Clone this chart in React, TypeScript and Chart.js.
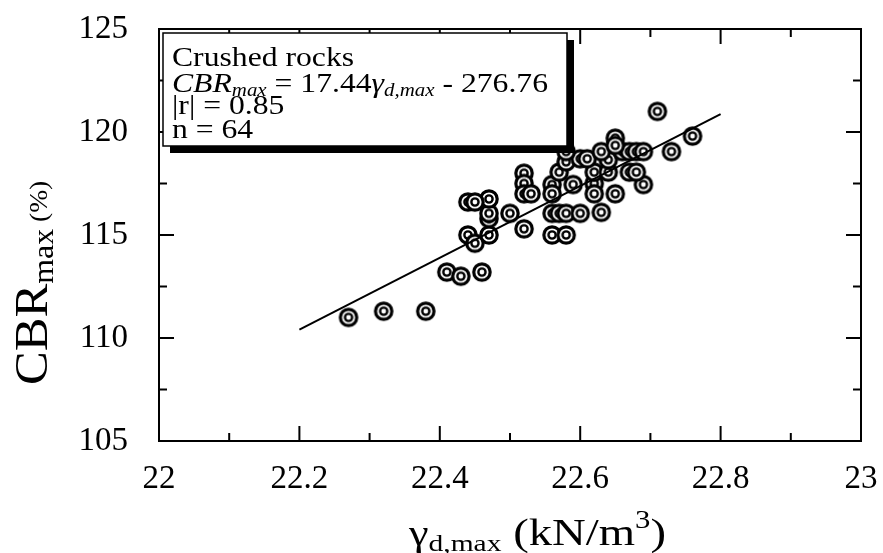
import React, { useEffect, useRef } from "react";
import { Chart, registerables } from "chart.js";

Chart.register(...registerables);

// ---- data ----
const gammaD = [
  22.27, 22.32, 22.38, 22.41, 22.43, 22.46, 22.44, 22.45, 22.47, 22.47,
  22.47, 22.47, 22.44, 22.45, 22.50, 22.52, 22.56, 22.58, 22.56, 22.57,
  22.58, 22.60, 22.63, 22.52, 22.52, 22.52, 22.53, 22.56, 22.56, 22.59,
  22.62, 22.62, 22.65, 22.69, 22.57, 22.62, 22.64, 22.67, 22.68, 22.58,
  22.60, 22.61, 22.64, 22.58, 22.63, 22.66, 22.67, 22.68, 22.69, 22.73,
  22.65, 22.65, 22.71, 22.76,
];
const cbrMax = [
  111.0, 111.3, 111.3, 113.2, 113.0, 113.2, 115.0, 114.6, 115.0, 115.8,
  116.05, 116.75, 116.6, 116.6, 116.05, 115.3, 115.0, 115.0, 116.05, 116.05,
  116.05, 116.05, 116.1, 118.0, 117.5, 117.0, 117.0, 117.45, 117.0, 117.45,
  117.5, 117.0, 117.0, 117.45, 118.05, 118.05, 118.05, 118.05, 118.05, 118.55,
  118.7, 118.7, 118.65, 119.05, 119.05, 119.05, 119.05, 119.05, 119.05, 119.05,
  119.7, 119.35, 121.0, 119.8,
];
const fitX = [22.2, 22.8];
const fitY = [110.41, 120.87];
const xTicks = [22, 22.2, 22.4, 22.6, 22.8, 23];
const yTicks = [105, 110, 115, 120, 125];
const xMinorTicks = [22.1, 22.3, 22.5, 22.7, 22.9];
const yMinorTicks = [107.5, 112.5, 117.5, 122.5];
const legendTitle = "Crushed rocks";
const legendR = "|r| = 0.85";
const legendN = "n = 64";

const SERIF = '"Liberation Serif", "Times New Roman", Times, serif';

type Seg = { t: string; size: number; italic?: boolean; dy?: number };

function richWidth(ctx: CanvasRenderingContext2D, segs: Seg[]) {
  let w = 0;
  for (const s of segs) {
    ctx.font = `${s.italic ? "italic " : ""}${s.size}px ${SERIF}`;
    w += ctx.measureText(s.t).width;
  }
  return w;
}

function drawRich(ctx: CanvasRenderingContext2D, segs: Seg[], sx: number) {
  ctx.save();
  ctx.scale(sx, 1);
  let cx = 0;
  for (const s of segs) {
    ctx.font = `${s.italic ? "italic " : ""}${s.size}px ${SERIF}`;
    ctx.fillText(s.t, cx, s.dy || 0);
    cx += ctx.measureText(s.t).width;
  }
  ctx.restore();
}

function makeMarker() {
  const c = document.createElement("canvas");
  c.width = 24;
  c.height = 24;
  const g = c.getContext("2d")!;
  g.fillStyle = "#fff";
  g.strokeStyle = "#000";
  g.lineWidth = 3.2;
  g.beginPath();
  g.arc(12, 12, 8.2, 0, Math.PI * 2);
  g.fill();
  g.stroke();
  g.lineWidth = 2.4;
  g.beginPath();
  g.arc(12, 12, 3.6, 0, Math.PI * 2);
  g.stroke();
  return c;
}

const framePlugin = {
  id: "frameTicks",
  afterDatasetsDraw(chart: any) {
    const ctx: CanvasRenderingContext2D = chart.ctx;
    const { left, right, top, bottom } = chart.chartArea;
    const xs = chart.scales.x;
    const ys = chart.scales.y;
    ctx.save();
    ctx.strokeStyle = "#000";
    ctx.lineWidth = 2;
    ctx.beginPath();
    const tick = (vals: number[], len: number) => {
      for (const v of vals) {
        const px = xs.getPixelForValue(v);
        ctx.moveTo(px, bottom);
        ctx.lineTo(px, bottom - len);
        ctx.moveTo(px, top);
        ctx.lineTo(px, top + len);
      }
    };
    const ytick = (vals: number[], len: number) => {
      for (const v of vals) {
        const py = ys.getPixelForValue(v);
        ctx.moveTo(left, py);
        ctx.lineTo(left + len, py);
        ctx.moveTo(right, py);
        ctx.lineTo(right - len, py);
      }
    };
    tick(xTicks, 15);
    tick(xMinorTicks, 8);
    ytick(yTicks, 15);
    ytick(yMinorTicks, 8);
    ctx.stroke();
    ctx.strokeRect(left, top, right - left, bottom - top);

    // annotation box
    const bx = 163, by = 33, bw = 404, bh = 113;
    ctx.fillStyle = "#000";
    ctx.fillRect(bx + 7, by + 7, bw, bh);
    ctx.fillStyle = "#fff";
    ctx.fillRect(bx, by, bw, bh);
    ctx.lineWidth = 1.5;
    ctx.strokeRect(bx, by, bw, bh);
    ctx.fillStyle = "#000";
    ctx.textBaseline = "alphabetic";
    ctx.textAlign = "left";
    const fs = 28;
    const eq: Seg[] = [
      { t: "CBR", size: fs, italic: true },
      { t: "max", size: fs * 0.66, italic: true, dy: 4 },
      { t: " = 17.44", size: fs },
      { t: "\u03b3", size: fs, italic: true },
      { t: "d,max", size: fs * 0.66, italic: true, dy: 4 },
      { t: " - 276.76", size: fs },
    ];
    const sx = 376 / richWidth(ctx, eq);
    const lines: [Seg[], number][] = [
      [[{ t: legendTitle, size: fs }], 65.5],
      [eq, 91.5],
      [[{ t: legendR, size: fs }], 114],
      [[{ t: legendN, size: fs }], 138],
    ];
    for (const [segs, y] of lines) {
      ctx.save();
      ctx.translate(172, y);
      drawRich(ctx, segs, sx);
      ctx.restore();
    }

    // x axis title
    const xt: Seg[] = [
      { t: "\u03b3", size: 36 },
      { t: "d,max", size: 24, dy: 6 },
      { t: " (kN/m", size: 38 },
      { t: "3", size: 25, dy: -17 },
      { t: ")", size: 38 },
    ];
    const xsx = 257 / richWidth(ctx, xt);
    ctx.save();
    ctx.translate(409, 545);
    drawRich(ctx, xt, xsx);
    ctx.restore();

    // y axis title
    const yt: Seg[] = [
      { t: "CBR", size: 46 },
      { t: "max", size: 29, dy: 6 },
      { t: " (%)", size: 25 },
    ];
    ctx.save();
    ctx.translate(47, 385);
    ctx.rotate(-Math.PI / 2);
    drawRich(ctx, yt, 1.1);
    ctx.restore();
    ctx.restore();
  },
};

export default function App() {
  const ref = useRef<HTMLCanvasElement | null>(null);
  useEffect(() => {
    document.body.style.margin = "0";
    const marker = makeMarker();
    const points = gammaD.map((g, i) => ({ x: g, y: cbrMax[i] }));
    const fit = fitX.map((x, i) => ({ x, y: fitY[i] }));
    const chart = new Chart(ref.current!, {
      type: "scatter",
      data: {
        datasets: [
          {
            type: "line",
            data: fit,
            borderColor: "#000",
            borderWidth: 2,
            pointRadius: 0,
            fill: false,
            order: 0,
          } as any,
          {
            data: points,
            pointStyle: marker as any,
            pointRadius: 9,
            order: 1,
          },
        ],
      },
      options: {
        responsive: false,
        animation: false,
        layout: { padding: { top: 29, right: 22, left: 0, bottom: 0 } },
        plugins: { legend: { display: false }, tooltip: { enabled: false } },
        scales: {
          x: {
            type: "linear",
            min: 22,
            max: 23,
            grid: { display: false, drawTicks: false },
            border: { display: false },
            afterBuildTicks: (s: any) => {
              s.ticks = xTicks.map((v) => ({ value: v }));
            },
            afterFit: (s: any) => {
              s.height = 112;
              s.paddingLeft = 0;
              s.paddingRight = 0;
            },
            ticks: {
              padding: 19,
              color: "#000",
              maxRotation: 0,
              autoSkip: false,
              font: { family: SERIF, size: 33 },
              callback: (v: any) => String(Number(v)),
            },
          },
          y: {
            type: "linear",
            min: 105,
            max: 125,
            grid: { display: false, drawTicks: false },
            border: { display: false },
            afterBuildTicks: (s: any) => {
              s.ticks = yTicks.map((v) => ({ value: v }));
            },
            afterFit: (s: any) => {
              s.width = 159;
              s.paddingTop = 0;
              s.paddingBottom = 0;
            },
            ticks: {
              padding: 31,
              color: "#000",
              autoSkip: false,
              font: { family: SERIF, size: 33 },
              callback: (v: any) => String(Number(v)),
            },
          },
        },
      },
      plugins: [framePlugin],
    });
    return () => chart.destroy();
  }, []);
  return <canvas ref={ref} width={883} height={553} style={{ display: "block" }} />;
}
